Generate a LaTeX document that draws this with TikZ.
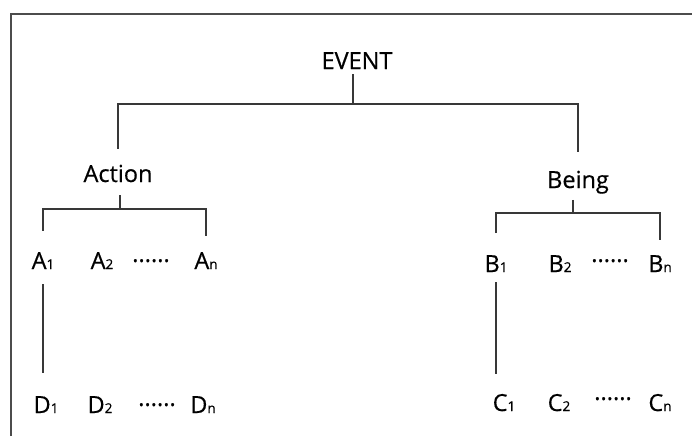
\documentclass[tikz,border=0pt]{standalone}
\usepackage{fontspec}
\setmainfont{Open Sans}[FakeBold=0.5]
\newcommand{\smallidx}[1]{{\fontsize{13.5}{14}\selectfont #1}}
\begin{document}
\begin{tikzpicture}[x=1pt,y=-1pt,
  lbl/.style={inner sep=0pt, anchor=base, font=\fontsize{23.5}{25}\selectfont},
  tree/.style={draw=black!78, line width=1.1pt},
  frame/.style={draw=black!70, line width=1.2pt}]
\useasboundingbox (0,0) rectangle (692,436);
% frame (only top and left edges visible)
\draw[frame] (11,436) -- (11,14) -- (692,14);
% text nodes
\node[lbl] (EVENT) at (357,69) {EVENT};
\node[lbl] (Action) at (118,182) {Action};
\node[lbl] (Being) at (578,188) {Being};
\node[lbl] (A1) at (43,269) {A\smallidx{1}};
\node[lbl] (A2) at (102,269) {A\smallidx{2}};
\node[lbl] (Ad) at (151,269) {······};
\node[lbl] (An) at (206,269) {A\smallidx{n}};
\node[lbl] (D1) at (46,413) {D\smallidx{1}};
\node[lbl] (D2) at (100,413) {D\smallidx{2}};
\node[lbl] (Dd) at (157,413) {······};
\node[lbl] (Dn) at (203,413) {D\smallidx{n}};
\node[lbl] (B1) at (496,272) {B\smallidx{1}};
\node[lbl] (B2) at (560,272) {B\smallidx{2}};
\node[lbl] (Bd) at (610,269) {······};
\node[lbl] (Bn) at (660,272) {B\smallidx{n}};
\node[lbl] (C1) at (504,411) {C\smallidx{1}};
\node[lbl] (C2) at (559,411) {C\smallidx{2}};
\node[lbl] (Cd) at (613,407) {······};
\node[lbl] (Cn) at (660,411) {C\smallidx{n}};
% joints
\coordinate (eJ) at (353,104);
\coordinate (aJ) at (120,209);
\coordinate (bJ) at (573,213);
% connectors
\draw[tree, shorten <=5pt] (eJ |- EVENT.south) -- (eJ);
\draw[tree, shorten <=16pt, shorten >=19pt] (Action.north) |- (eJ) -| (Being.north);
\draw[tree, shorten <=13pt] (aJ |- Action.south) -- (aJ);
\draw[tree, shorten <=21pt, shorten >=16pt] (A1.north) |- (aJ) -| (An.north);
\draw[tree, shorten <=15pt, shorten >=23pt] (A1.south) -- (A1.south |- D1.north);
\draw[tree, shorten <=6pt] (bJ |- Being.south) -- (bJ);
\draw[tree, shorten <=22pt, shorten >=15pt] (B1.north) |- (bJ) -| (Bn.north);
\draw[tree, shorten <=10pt, shorten >=20pt] (B1.south) -- (B1.south |- C1.north);
\end{tikzpicture}
\end{document}
